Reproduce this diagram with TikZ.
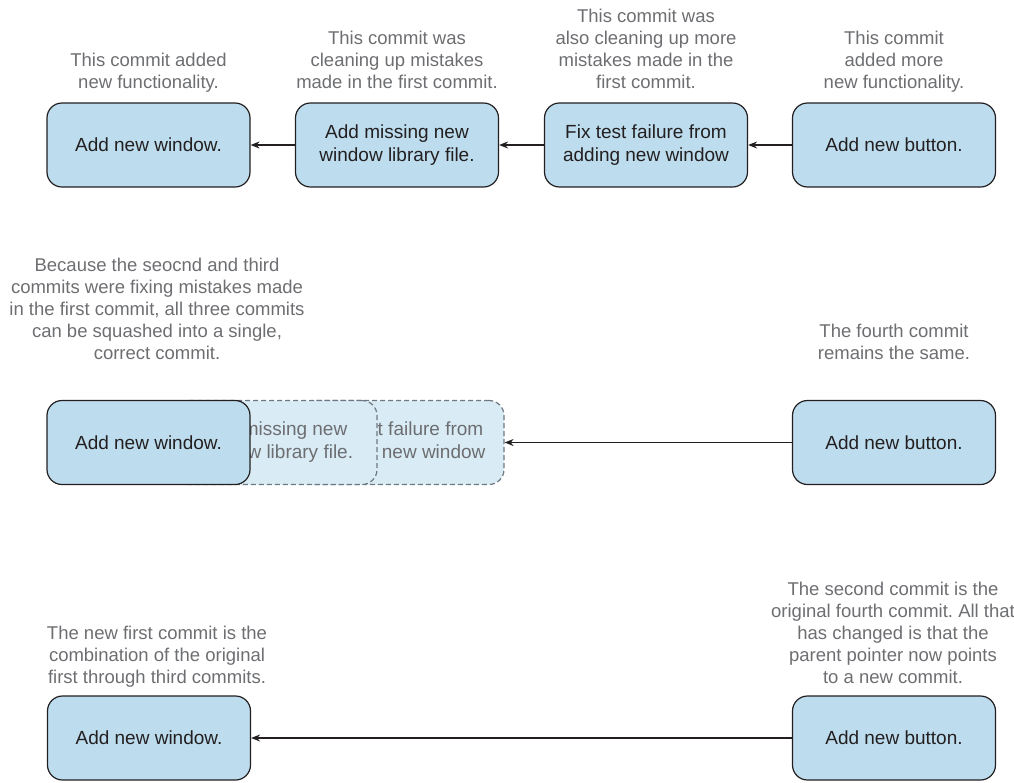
\documentclass[tikz,border=0pt]{standalone}
\usepackage{fontspec}
\setmainfont{Liberation Sans}
\usetikzlibrary{arrows.meta}
\frenchspacing
\definecolor{ink}{HTML}{231F20}
\definecolor{note}{HTML}{6D6E71}
\definecolor{commitfill}{HTML}{BDDDEE}
\definecolor{ghostfill}{HTML}{D9EBF5}
\definecolor{ghostline}{HTML}{6E7880}
\begin{document}
\begin{tikzpicture}[x=1pt,y=-1pt,
  commit/.style={draw=ink, line width=1.2pt, fill=commitfill, rounded corners=15pt,
    minimum width=203pt, minimum height=84pt, align=center, text=ink,
    font=\fontsize{19}{23}\selectfont, inner sep=0pt},
  ghost/.style={commit, draw=ghostline, dashed, dash pattern=on 5pt off 3pt,
    fill=ghostfill, text=note},
  note/.style={align=center, text=note, font=\fontsize{18.5}{22}\selectfont,
    inner sep=0pt, anchor=base},
  parent/.style={draw=ink, line width=1.2pt, -{Stealth[length=9pt,width=7pt]}}
]
\useasboundingbox (0,0) rectangle (1014,782);

% first row: the original four commits
\node[commit] (a1) at (148.5,145) {Add new window.};
\node[commit] (b1) at (397,145) {Add missing new\\window library file.};
\node[commit] (c1) at (646,145) {Fix test failure from\\adding new window};
\node[commit] (d1) at (894,145) {Add new button.};
\draw[parent] (b1) -- (a1);
\draw[parent] (c1) -- (b1);
\draw[parent] (d1) -- (c1);

\node[note] (na1) at (148.5,88) {This commit added\\new functionality.};
\node[note] (nb1) at (397,88) {This commit was\\cleaning up mistakes\\made in the first commit.};
\node[note] (nc1) at (646,88) {This commit was\\also cleaning up more\\mistakes made in the\\first commit.};
\node[note] (nd1) at (894,88) {This commit\\added more\\new functionality.};

% second row: commits two and three folded into the first
\node[ghost] (c2) at (402.5,442.5) {Fix test failure from\\adding new window};
\node[ghost] (b2) at (275.5,442.5) {Add missing new\\window library file.};
\node[commit] (a2) at (148.5,442.5) {Add new window.};
\node[commit] (d2) at (894,442.5) {Add new button.};
\draw[parent] (d2) -- (c2);

\node[note] (na2) at (157,359) {Because the seocnd and third\\commits were fixing mistakes made\\in the first commit, all three commits\\can be squashed into a single,\\correct commit.};
\node[note] (nd2) at (894,359) {The fourth commit\\remains the same.};

% third row: the rewritten history
\node[commit] (a3) at (149,738) {Add new window.};
\node[commit] (d3) at (894,738) {Add new button.};
\draw[parent] (d3) -- (a3);

\node[note] (na3) at (157,683) {The new first commit is the\\combination of the original\\first through third commits.};
\node[note] (nd3) at (893,683) {The second commit is the\\original fourth commit. All that\\has changed is that the\\parent pointer now points\\to a new commit.};
\end{tikzpicture}
\end{document}
